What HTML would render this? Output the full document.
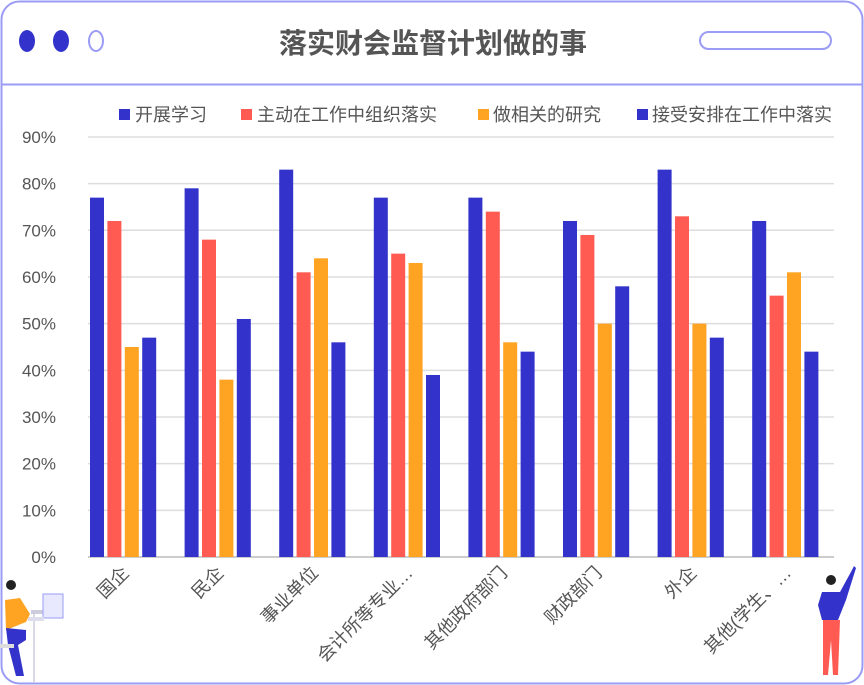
<!DOCTYPE html>
<html><head><meta charset="utf-8"><style>
body{margin:0;background:#fff;}
svg{display:block;font-family:"Liberation Sans","Noto Sans CJK SC",sans-serif;}
</style></head><body>
<svg width="864" height="685" viewBox="0 0 864 685" xmlns="http://www.w3.org/2000/svg">
<rect x="1.5" y="1.5" width="861" height="682" rx="18" fill="#fff" stroke="#9a9cf5" stroke-width="2"/>
<line x1="1" y1="84.5" x2="863" y2="84.5" stroke="#9a9cf5" stroke-width="2"/>
<ellipse cx="27" cy="41" rx="8" ry="11" fill="#3333cc"/>
<ellipse cx="61" cy="41" rx="8" ry="11" fill="#3333cc"/>
<ellipse cx="96" cy="41" rx="7" ry="10" fill="#fff" stroke="#9a9cf5" stroke-width="2"/>
<rect x="700" y="32" width="131" height="17" rx="8.5" fill="#fff" stroke="#9a9cf5" stroke-width="2"/>
<text x="433" y="53" text-anchor="middle" font-size="28" font-weight="bold" fill="#555">落实财会监督计划做的事</text>
<g font-size="18" fill="#555">
<rect x="119" y="109" width="11" height="11" fill="#3333cc"/><text x="135" y="121">开展学习</text>
<rect x="241" y="109" width="11" height="11" fill="#ff5b52"/><text x="257" y="121">主动在工作中组织落实</text>
<rect x="478" y="109" width="11" height="11" fill="#ffa322"/><text x="493" y="121">做相关的研究</text>
<rect x="637" y="109" width="11" height="11" fill="#3333cc"/><text x="652" y="121">接受安排在工作中落实</text>
</g>
<g id="grid" stroke="#ddd" stroke-width="1.5"></g>
<g id="bars"></g>
<g id="xl" font-size="17" fill="#555"></g>
<g>
<rect x="31" y="610" width="12" height="4" fill="#ccd"/>
<line x1="34" y1="614" x2="34" y2="683" stroke="#ccd" stroke-width="1.5"/>
<rect x="43" y="594" width="20" height="24" fill="#e8e8ff" stroke="#9a9cf5"/>
<rect x="28" y="617" width="16" height="4" fill="#dde"/>
<circle cx="11" cy="585" r="5" fill="#222"/>
<path d="M5 600 L20 598 L30 614 L26 622 L6 630 Z" fill="#ffa322"/>
<path d="M6 628 L26 630 L26 640 L18 645 L24 676 L16 676 L8 645 Z" fill="#3333cc"/>
<rect x="0" y="644" width="14" height="4" fill="#ddd"/>
</g>
<g>
<circle cx="831" cy="580" r="5" fill="#222"/>
<path d="M822 592 L840 592 L852 570 L854 566 L856 568 L846 600 L838 620 L822 620 L818 605 Z" fill="#3333cc"/>
<path d="M823 620 L840 620 L838 675 L833 675 L831 640 L828 675 L823 675 Z" fill="#ff5b52"/>
</g>
<script>
var g=document.getElementById('grid'),b=document.getElementById('bars'),xl=document.getElementById('xl');
var ns="http://www.w3.org/2000/svg";
var y0=557,step=46.67;
for(var i=0;i<=9;i++){var y=y0-i*step;
 var l=document.createElementNS(ns,'line');l.setAttribute('x1',88);l.setAttribute('x2',834);l.setAttribute('y1',y);l.setAttribute('y2',y);if(i==0){l.setAttribute('stroke','#ccc');l.setAttribute('stroke-width','2');}g.appendChild(l);
 var t=document.createElementNS(ns,'text');t.setAttribute('x',56);t.setAttribute('y',y+6);t.setAttribute('text-anchor','end');t.setAttribute('font-size','17');t.setAttribute('fill','#555');t.textContent=(i*10)+'%';xl.appendChild(t);}
var d=[[77,72,45,47],[79,68,38,51],[83,61,64,46],[77,65,63,39],[77,74,46,44],[72,69,50,58],[83,73,50,47],[72,56,61,44]];
var names=['国企','民企','事业单位','会计所等专业…','其他政府部门','财政部门','外企','其他(学生、…'];
var cols=['#3333cc','#ff5b52','#ffa322','#3333cc'];
for(var i=0;i<8;i++){var gx=90+94.6*i;
 for(var j=0;j<4;j++){var h=d[i][j]*step/10;var r=document.createElementNS(ns,'rect');
 r.setAttribute('x',gx+j*17.4);r.setAttribute('y',y0-h);r.setAttribute('width',14);r.setAttribute('height',h);r.setAttribute('fill',cols[j]);b.appendChild(r);}
 var cx=gx+40;var t=document.createElementNS(ns,'text');t.setAttribute('text-anchor','end');t.setAttribute('font-size','18');
 t.setAttribute('transform','translate('+cx+',574) rotate(-45)');t.textContent=names[i];xl.appendChild(t);}
</script>
</svg>
</body></html>
